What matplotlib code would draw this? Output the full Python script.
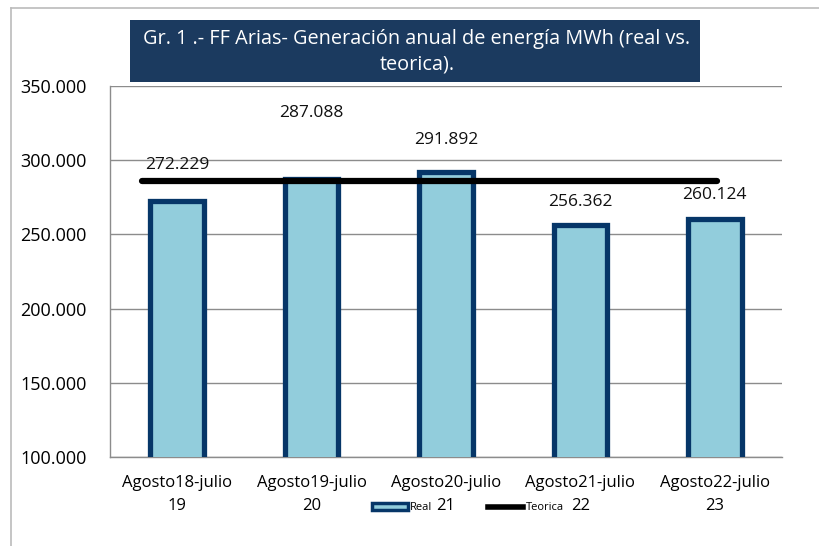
import matplotlib
matplotlib.use("Agg")
import matplotlib.pyplot as plt
from matplotlib.lines import Line2D
from matplotlib.patches import Rectangle

categories = ["Agosto18-julio\n19", "Agosto19-julio\n20", "Agosto20-julio\n21",
              "Agosto21-julio\n22", "Agosto22-julio\n23"]
real = [272229, 287088, 291892, 256362, 260124]
teorica = 286000
label_texts = ["272.229", "287.088", "291.892", "256.362", "260.124"]
label_y = [296800, 331800, 313600, 271800, 276500]
yticks = [100000, 150000, 200000, 250000, 300000, 350000]
ytick_labels = ["100.000", "150.000", "200.000", "250.000", "300.000", "350.000"]

W, H = 819, 546
fig = plt.figure(figsize=(W / 100, H / 100), dpi=100)
plt.rcParams['font.family'] = ['Open Sans', 'DejaVu Sans']

# outer frame lines
fig.add_artist(Line2D([11 / W, 1], [1 - 8 / H, 1 - 8 / H], color="#bbbbbb", lw=1.2))
fig.add_artist(Line2D([11 / W, 11 / W], [0, 1 - 8 / H], color="#bbbbbb", lw=1.2))

ax = fig.add_axes([110 / W, 1 - 457 / H, (782 - 110) / W, (457 - 86) / H])
x = list(range(len(categories)))
ax.bar(x, real, width=0.40, bottom=0, color="#92CDDC", edgecolor="#063668",
       linewidth=3.8, zorder=3)
ax.plot([-0.26, 4.02], [teorica, teorica], color="black", lw=4.5,
        solid_capstyle="round", zorder=4)
for xi, t, yy in zip(x, label_texts, label_y):
    ax.text(xi, yy, t, ha="center", va="center", fontsize=12.5, color="#111111", zorder=5)

ax.set_xlim(-0.5, 4.5)
ax.set_ylim(100000, 350000)
ax.set_yticks(yticks)
ax.set_yticklabels(ytick_labels, fontsize=13)
ax.set_xticks(x)
ax.set_xticklabels(categories, fontsize=12, linespacing=1.55)
ax.tick_params(axis="x", length=0, pad=13)
ax.tick_params(axis="y", length=0, pad=17)
ax.grid(axis="y", color="#8c8c8c", lw=1.0, zorder=0)
for s in ["top", "right"]:
    ax.spines[s].set_visible(False)
for s in ["left", "bottom"]:
    ax.spines[s].set_color("#8c8c8c")
    ax.spines[s].set_linewidth(1.0)

# title box
fig.add_artist(Rectangle((130 / W, 1 - 82 / H), (700 - 130) / W, (82 - 20) / H,
                         transform=fig.transFigure, facecolor="#1B3A5F",
                         edgecolor="none", zorder=10))
fig.text(417 / W, 1 - 52 / H,
         "Gr. 1 .- FF Arias- Generación anual de energía MWh (real vs.\nteorica).",
         ha="center", va="center", color="white", fontsize=14.3, linespacing=1.35,
         zorder=11)

handles = [Rectangle((0, 0), 1, 1, facecolor="#92CDDC", edgecolor="#063668", lw=2.5),
           Line2D([0], [0], color="black", lw=4)]
fig.legend(handles, ["Real", "Teorica"], loc="center", bbox_to_anchor=(468 / W, 1 - 508 / H),
           ncol=2, frameon=False, fontsize=8, handlelength=3.2, handleheight=0.6,
           columnspacing=5, handletextpad=0.2)

fig.savefig("out.png", dpi=100)
